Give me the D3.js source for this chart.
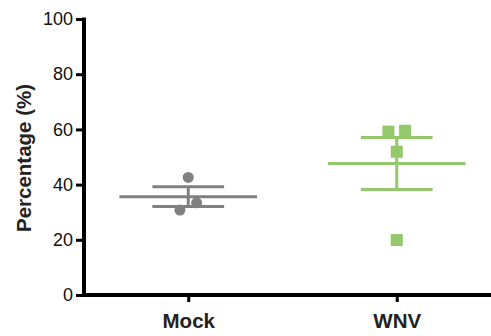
<!DOCTYPE html>
<html>
<head>
<meta charset="utf-8">
<script src="https://cdn.jsdelivr.net/npm/d3@7"></script>
<style>
  html, body { margin: 0; padding: 0; background: #fff; }
  svg { display: block; }
  text { font-family: Arial, "Liberation Sans", Helvetica, sans-serif; }
</style>
</head>
<body>
<svg id="chart" width="491" height="336"></svg>
<script>
// Groups and individual measurements (%)
const groups = ["Mock", "WNV"];
const mockValues = [42.6, 30.8, 33.4];
const wnvValues = [59.2, 59.5, 51.9, 19.9];
// horizontal scatter of each point, as a fraction of the group spacing
const mockJitter = [0.0, -0.04, 0.04];
const wnvJitter = [-0.04, 0.04, 0.0, 0.0];
const yTicks = [0, 20, 40, 60, 80, 100];
const groupColors = ["#808080", "#93c86c"];

const series = [
  { name: groups[0], values: mockValues, jitter: mockJitter, shape: "circle" },
  { name: groups[1], values: wnvValues, jitter: wnvJitter, shape: "square" }
];

const svg = d3.select("#chart");
const plotLeft = 84, plotTop = 19, plotBottom = 295, plotRight = 501;

const x = d3.scalePoint().domain(groups).range([plotLeft, plotRight]).padding(0.5);
const y = d3.scaleLinear().domain([0, 100]).range([plotBottom, plotTop]);
const step = x.step();

// y axis
const yAxis = svg.append("g")
  .attr("transform", `translate(${plotLeft},0)`)
  .call(d3.axisLeft(y).tickValues(yTicks).tickSize(8).tickPadding(3).tickSizeOuter(0));
yAxis.select(".domain").attr("stroke-width", 4).attr("stroke", "#000")
  .attr("d", `M0,${plotTop - 1.5}V${plotBottom}`);
yAxis.selectAll(".tick line").attr("stroke-width", 3).attr("stroke", "#000");
yAxis.selectAll(".tick text")
  .attr("font-size", 18).attr("fill", "#111")
  .style("font-family", "Arial, 'Liberation Sans', sans-serif");

// x axis
const xAxis = svg.append("g")
  .attr("transform", `translate(0,${plotBottom})`)
  .call(d3.axisBottom(x).tickSize(7).tickPadding(11).tickSizeOuter(0));
xAxis.select(".domain").attr("stroke-width", 4).attr("stroke", "#000")
  .attr("d", `M${plotLeft - 2},0H${plotRight}`);
xAxis.selectAll(".tick line").attr("stroke-width", 3).attr("stroke", "#000");
xAxis.selectAll(".tick text")
  .attr("font-size", 20.5).attr("font-weight", "bold").attr("fill", "#222")
  .style("font-family", "Arial, 'Liberation Sans', sans-serif");

// y axis title
svg.append("text")
  .attr("transform", `translate(31,158) rotate(-90)`)
  .attr("text-anchor", "middle")
  .attr("font-size", 20.5)
  .attr("font-weight", "bold")
  .attr("fill", "#222")
  .text("Percentage (%)");

// mean ± SEM and individual points
series.forEach((s, i) => {
  const color = groupColors[i];
  const cx = x(s.name);
  const n = s.values.length;
  const mean = d3.mean(s.values);
  const sem = d3.deviation(s.values) / Math.sqrt(n);
  const g = svg.append("g");

  const meanHalf = step * 0.33;
  const capHalf = step * 0.172;

  g.append("line")
    .attr("x1", cx).attr("x2", cx)
    .attr("y1", y(mean + sem)).attr("y2", y(mean - sem))
    .attr("stroke", color).attr("stroke-width", 3);
  [mean + sem, mean - sem].forEach(v => {
    g.append("line")
      .attr("x1", cx - capHalf).attr("x2", cx + capHalf)
      .attr("y1", y(v)).attr("y2", y(v))
      .attr("stroke", color).attr("stroke-width", 3);
  });
  g.append("line")
    .attr("x1", cx - meanHalf).attr("x2", cx + meanHalf)
    .attr("y1", y(mean)).attr("y2", y(mean))
    .attr("stroke", color).attr("stroke-width", 3);

  const pts = s.values.map((v, j) => ({ v, px: cx + s.jitter[j] * step }));
  if (s.shape === "circle") {
    g.selectAll("circle").data(pts).enter().append("circle")
      .attr("cx", d => d.px).attr("cy", d => y(d.v))
      .attr("r", 5.5).attr("fill", color);
  } else {
    const sz = 12;
    g.selectAll("rect").data(pts).enter().append("rect")
      .attr("x", d => d.px - sz / 2).attr("y", d => y(d.v) - sz / 2)
      .attr("width", sz).attr("height", sz).attr("fill", color);
  }
});
</script>
</body>
</html>
